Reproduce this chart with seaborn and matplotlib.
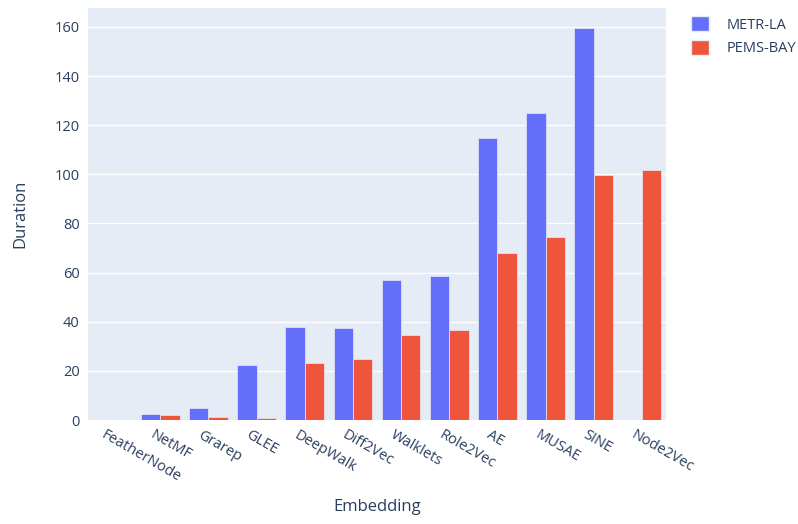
import matplotlib
matplotlib.use("Agg")
import matplotlib.pyplot as plt
import matplotlib.transforms as mtransforms
import seaborn as sns
import pandas as pd
from matplotlib.patches import Patch

embeddings = ["FeatherNode", "NetMF", "Grarep", "GLEE", "DeepWalk", "Diff2Vec",
              "Walklets", "Role2Vec", "AE", "MUSAE", "SINE", "Node2Vec"]
metr_la = [0.1, 2.6, 4.7, 22.3, 38.0, 37.6, 56.9, 58.8, 114.8, 125.0, 159.6, 0.0]
pems_bay = [0.1, 2.2, 1.4, 1.0, 23.4, 25.0, 34.8, 36.8, 67.8, 74.3, 99.8, 101.8]
series = ["METR-LA", "PEMS-BAY"]
colors = ["#636efa", "#EF553B"]

df = pd.DataFrame({
    "Embedding": embeddings * 2,
    "Duration": metr_la + pems_bay,
    "Dataset": [series[0]] * len(embeddings) + [series[1]] * len(embeddings),
})

sns.set_theme(style="white")
plt.rcParams["font.family"] = ["Open Sans", "DejaVu Sans"]
text_color = "#2a3f5f"

fig = plt.figure(figsize=(7.98, 5.24), dpi=100)
ax = fig.add_axes([88 / 798, (524 - 420) / 524, (666 - 88) / 798, (420 - 8) / 524])
ax.set_facecolor("#E5ECF6")

sns.barplot(data=df, x="Embedding", y="Duration", hue="Dataset", order=embeddings,
            hue_order=series, palette=colors, width=0.8, gap=0, ax=ax,
            edgecolor="#E5ECF6", linewidth=0.5, saturation=1, legend=False)

ax.set_ylim(0, 167.7)
ax.set_xlim(-0.5, len(embeddings) - 0.5)
ax.set_yticks(range(0, 161, 20))
ax.grid(axis="y", color="white", linewidth=1)
ax.set_axisbelow(True)
for s in ax.spines.values():
    s.set_visible(False)
ax.tick_params(axis="both", length=0, colors=text_color, labelsize=10.5)
ax.tick_params(axis="y", pad=6)
ax.set_xticks(range(len(embeddings)))
ax.set_xticklabels(embeddings, rotation=-30, ha="left", va="top",
                   rotation_mode="anchor", color=text_color, fontsize=10.5)
offset = mtransforms.ScaledTranslation(-4 / 72, -2 / 72, fig.dpi_scale_trans)
for lbl in ax.get_xticklabels():
    lbl.set_transform(lbl.get_transform() + offset)

ax.set_xlabel("Embedding", color=text_color, fontsize=12, labelpad=10)
ax.set_ylabel("Duration", color=text_color, fontsize=12, labelpad=19)

handles = [Patch(facecolor=c, edgecolor="#E5ECF6") for c in colors]
fig.legend(handles, series, loc="upper left", bbox_to_anchor=(678 / 798, 1 - 3 / 524),
           frameon=False, fontsize=10.5, labelcolor=text_color, handlelength=1.2,
           handleheight=1.2, handletextpad=1.2, labelspacing=0.5)

fig.savefig("out.png", dpi=100, facecolor="white")
